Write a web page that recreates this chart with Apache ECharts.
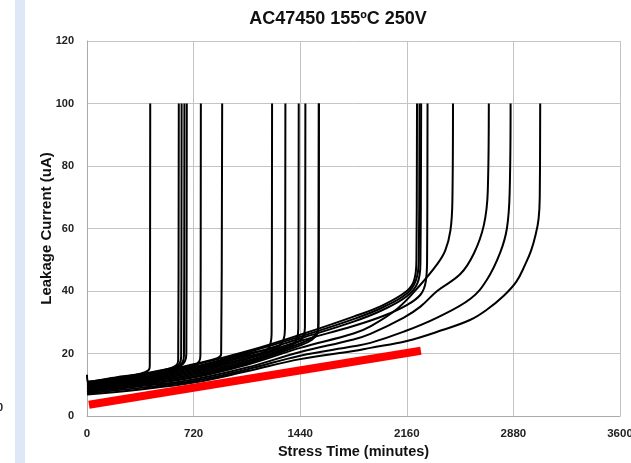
<!DOCTYPE html>
<html>
<head>
<meta charset="utf-8">
<script src="https://cdn.jsdelivr.net/npm/echarts@6/dist/echarts.min.js"></script>
<style>
html,body{margin:0;padding:0;background:#fff;}
#chart{width:631px;height:463px;}
</style>
</head>
<body>
<div id="chart"></div>
<script>
// ---- Data ----
const chartTitle = 'AC47450 155ºC 250V';
const xTicks = [0, 720, 1440, 2160, 2880, 3600];
const yTicks = [0, 20, 40, 60, 80, 100, 120];

// early failures [minutes, uA]
const e01 = [[0,13.2],[6,11.0],[200,12.4],[360,13.5],[415,14.6],[424,16],[427,100]];
const e02 = [[0,10.7],[360,13.2],[560,15.2],[605,16.3],[616,18],[620,100]];
const e03 = [[0,10.5],[360,13.0],[580,15.2],[625,16.8],[636,19],[639,100]];
const e04 = [[0,10.2],[360,12.9],[600,15.4],[645,17.2],[655,19.5],[658,100]];
const e05 = [[0,10.9],[360,13.4],[620,15.9],[662,17.6],[671,20],[674,100]];
const e06 = [[0,9.8],[360,12.4],[720,16.0],[758,17.5],[766,19.5],[769,100]];
const e07 = [[0,10.1],[360,12.7],[720,16.6],[880,18.5],[906,19.8],[913,100]];
const e08 = [[0,9.2],[360,11.6],[720,14.6],[1080,19.1],[1200,20.6],[1238,23],[1247,27],[1250,100]];
const e09 = [[0,9.6],[360,12.1],[720,15.4],[1080,19.9],[1290,22.2],[1328,24.5],[1337,28],[1340,100]];
const e10 = [[0,8.6],[360,10.7],[720,13.4],[1080,17.7],[1380,22.5],[1418,24.8],[1427,28],[1430,100]];
const e11 = [[0,8.8],[360,11.0],[720,13.8],[1080,18.2],[1420,23.6],[1462,25.5],[1472,28.5],[1475,100]];
const e12 = [[0,8.3],[360,10.4],[720,13.0],[1080,17.2],[1440,23.2],[1520,25],[1557,27],[1563,30],[1566,100]];
const e13 = [[0,7.6],[360,9.8],[720,12.6],[1080,16.8],[1440,22.6],[1520,24.4],[1557,26.5],[1563,29],[1566,100]];
// late failures
const lE = [[0,10.4],[360,12.8],[720,16.3],[1080,20.7],[1440,26.0],[1800,31.8],[2000,35.5],[2160,40],[2210,43.5],[2225,50],[2229,100]];
const lF = [[0,9.9],[360,12.5],[720,15.7],[1080,20.3],[1440,25.4],[1800,31.0],[2000,34.8],[2160,39.2],[2222,43.5],[2241,50],[2246,100]];
const lG = [[0,9.4],[360,11.9],[720,15.0],[1080,19.5],[1440,24.8],[1800,30.2],[2000,34.0],[2160,38.3],[2232,42.5],[2252,49],[2257,100]];
const lH = [[0,9.0],[360,11.3],[720,14.2],[1080,18.6],[1440,24.0],[1800,28.8],[2000,32.0],[2160,35.5],[2252,38.8],[2288,43],[2297,50],[2300,100]];
const lD = [[0,8.0],[360,10.0],[720,12.3],[1080,16.4],[1440,21.8],[1800,26.4],[1914,28.7],[2100,34.5],[2252,42],[2364,48.5],[2420,53],[2455,59.5],[2468,69],[2472,100]];
const lC = [[0,7.7],[360,9.5],[720,11.7],[1080,15.5],[1440,20.5],[1800,24.5],[1914,26.3],[2140,31.5],[2252,35],[2365,40],[2523,45.5],[2613,52],[2680,61],[2707,72],[2714,100]];
const lB = [[0,7.3],[360,9.0],[720,11.2],[1080,14.9],[1440,19.3],[1800,22.3],[1914,23.4],[2140,27],[2365,31.5],[2590,37.5],[2701,43.6],[2790,52.2],[2836,60],[2855,72],[2861,100]];
const lA = [[0,6.9],[360,8.5],[720,10.7],[1080,14.3],[1440,18.2],[1800,20.8],[1914,21.8],[2160,24],[2400,27.5],[2590,30.8],[2700,34],[2815,38.5],[2900,43],[2960,48.5],[3000,53],[3030,58],[3050,63],[3058,70],[3061,100]];
// red trend line
const trend = [[13,3.6],[2255,20.9]];

const curves = [e01,e02,e03,e04,e05,e06,e07,e08,e09,e10,e11,e12,e13,lE,lF,lG,lH,lD,lC,lB,lA];

// ---- Chart ----
const chart = echarts.init(document.getElementById('chart'), null, {renderer:'canvas'});
const FONT = 'Liberation Sans, Arial, sans-serif';

const series = curves.map((c, i) => ({
  type: 'line',
  name: 'c' + i,
  data: c,
  showSymbol: false,
  smooth: 0.4,
  lineStyle: { color: '#000', width: 2 },
  silent: true,
  animation: false,
  z: 2
}));
series.push({
  type: 'line',
  name: 'trend',
  data: trend,
  showSymbol: false,
  lineStyle: { color: '#ff0000', width: 8, cap: 'butt' },
  silent: true,
  animation: false,
  z: 3
});

chart.setOption({
  animation: false,
  backgroundColor: '#fff',
  title: {
    text: chartTitle,
    left: 333, top: 5, textAlign: 'center',
    textStyle: { fontFamily: FONT, fontWeight: 'bold', fontSize: 18, color: '#111' }
  },
  graphic: [
    { type: 'rect', left: 15, top: 0, shape: { width: 10, height: 463 }, style: { fill: '#dce8f5' }, z: -1 },
    { type: 'text', left: -3, top: 402, style: { text: '0', font: 'bold 11px Liberation Sans', fill: '#222' } }
  ],
  grid: { left: 87, right: 11, top: 41, bottom: 47, containLabel: false, outerBoundsMode: 'none' },
  xAxis: {
    type: 'value', min: xTicks[0], max: xTicks[xTicks.length - 1], interval: 720,
    name: 'Stress Time (minutes)', nameLocation: 'middle', nameGap: 28, nameMoveOverlap: false,
    nameTextStyle: { fontFamily: FONT, fontWeight: 'bold', fontSize: 14.5, color: '#111' },
    axisLine: { show: true, lineStyle: { color: '#aaa', width: 1 } },
    axisTick: { show: false },
    axisLabel: { fontFamily: FONT, fontWeight: 'bold', fontSize: 11.5, color: '#222', margin: 12,
      formatter: v => xTicks.includes(v) ? String(v) : '' },
    splitLine: { show: true, lineStyle: { color: '#c4c4c4', width: 1 } }
  },
  yAxis: {
    type: 'value', min: yTicks[0], max: yTicks[yTicks.length - 1], interval: 20,
    name: 'Leakage Current (uA)', nameLocation: 'middle', nameGap: 33, nameMoveOverlap: false,
    nameTextStyle: { fontFamily: FONT, fontWeight: 'bold', fontSize: 15, color: '#111' },
    axisLine: { show: true, lineStyle: { color: '#aaa', width: 1 } },
    axisTick: { show: false },
    axisLabel: { fontFamily: FONT, fontWeight: 'bold', fontSize: 11, color: '#222', margin: 13,
      formatter: v => yTicks.includes(v) ? String(v) : '' },
    splitLine: { show: true, lineStyle: { color: '#c4c4c4', width: 1 } }
  },
  series: series
});
</script>
</body>
</html>
